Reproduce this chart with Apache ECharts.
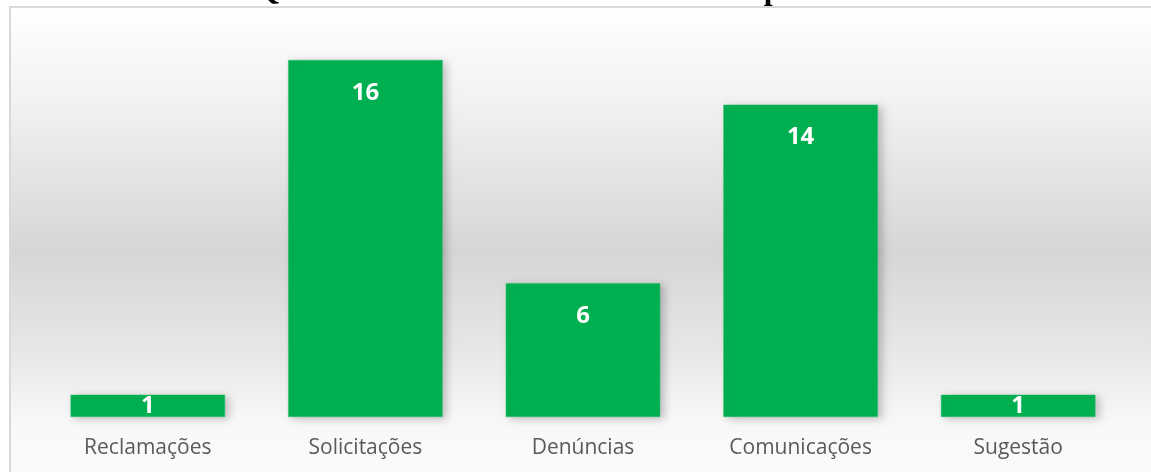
<!DOCTYPE html>
<html>
<head>
<meta charset="utf-8">
<script src="https://cdn.jsdelivr.net/npm/echarts@6/dist/echarts.min.js"></script>
<style>
  html, body { margin: 0; padding: 0; background: #fff; }
  #chart { width: 1151px; height: 472px; }
</style>
</head>
<body>
<div id="chart"></div>
<script>
// dados do grafico
const titulo = 'Quantidade de Demandas Recebidas pela Área'
const categorias = ['Reclamações', 'Solicitações', 'Denúncias', 'Comunicações', 'Sugestão']
const valores = [1, 16, 6, 14, 1]

const chart = echarts.init(document.getElementById('chart'))

const seriesData = valores.map(v => {
  const item = { value: v }
  // barra pequena: rotulo no meio
  if (v < 2) {
    item.label = { position: 'inside' }
  }
  return item
})

const option = {
  animation: false,
  graphic: [
    {
      type: 'rect',
      z: -10,
      shape: { x: 10, y: 7, width: 1150, height: 470 },
      style: {
        fill: new echarts.graphic.LinearGradient(0, 0, 0, 1, [
          { offset: 0, color: '#ffffff' },
          { offset: 0.2, color: '#f2f2f2' },
          { offset: 0.52, color: '#d6d6d6' },
          { offset: 0.72, color: '#e6e6e6' },
          { offset: 0.88, color: '#f8f8f8' },
          { offset: 1, color: '#fbfbfb' }
        ]),
        stroke: '#d9d9d9',
        lineWidth: 2
      }
    },
    {
      type: 'text',
      left: 'center',
      y: -9,
      z: 10,
      style: {
        text: titulo,
        font: 'bold 32px "Liberation Serif", "Times New Roman", serif',
        fill: '#000',
        verticalAlign: 'middle'
      }
    }
  ],
  grid: {
    top: 60,
    left: 39,
    right: 24,
    bottom: 55
  },
  xAxis: {
    type: 'category',
    data: categorias,
    axisLine: { show: false },
    axisTick: { show: false },
    axisLabel: {
      margin: 21,
      color: '#595959',
      fontFamily: '"Open Sans", sans-serif',
      fontSize: 21
    }
  },
  yAxis: {
    type: 'value',
    min: 0,
    max: 16,
    show: false,
    splitLine: { show: false }
  },
  series: [{
    type: 'bar',
    data: seriesData,
    barCategoryGap: '29%',
    itemStyle: {
      color: '#00b050',
      borderColor: '#2cc070',
      borderWidth: 0.5,
      shadowColor: 'rgba(0,0,0,0.22)',
      shadowBlur: 8,
      shadowOffsetX: 4,
      shadowOffsetY: 2
    },
    label: {
      show: true,
      position: 'insideTop',
      distance: 21,
      color: '#fff',
      fontFamily: '"Open Sans", sans-serif',
      fontWeight: 'bold',
      fontSize: 24
    }
  }]
}

chart.setOption(option)
</script>
</body>
</html>
